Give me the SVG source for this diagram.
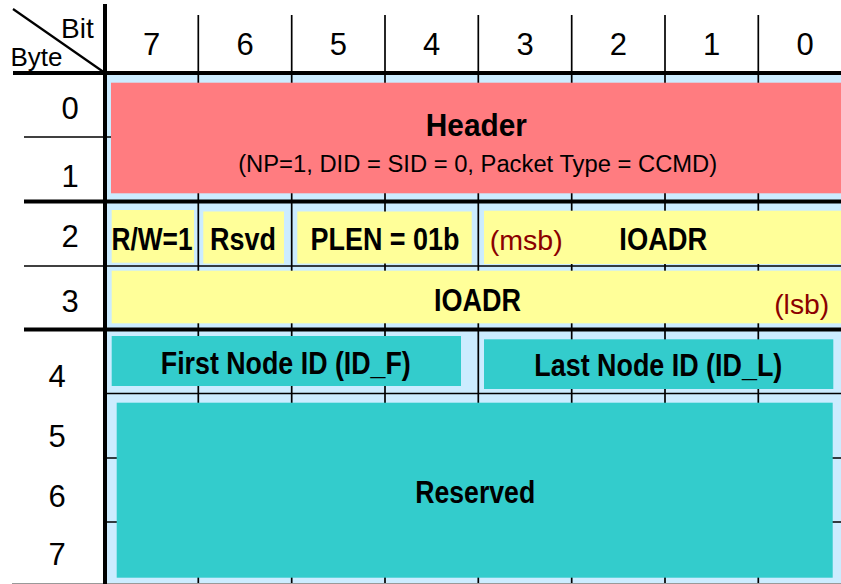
<svg xmlns="http://www.w3.org/2000/svg" width="841" height="584" viewBox="0 0 841 584">
<style>
.num{font-family:"Liberation Sans",Arial,sans-serif;font-size:31px;fill:#000;text-anchor:middle}
.ax{font-family:"Liberation Sans",Arial,sans-serif;fill:#000}
.lbl{font-family:"Liberation Sans",Arial,sans-serif;font-weight:bold;font-size:31px;fill:#000;text-anchor:middle}
.sub{font-family:"Liberation Sans",Arial,sans-serif;font-size:23px;fill:#000;text-anchor:middle}
.bit{font-family:"Liberation Sans",Arial,sans-serif;font-size:28px;fill:#8B0000;text-anchor:middle}
.thin{stroke:#000;stroke-width:1.7;fill:none}
.thick{stroke:#000;stroke-width:4;fill:none}
.red{fill:#FF7C80}
.yel{fill:#FFFF99}
.teal{fill:#33CCCC}
</style>
<rect x="0" y="0" width="841" height="584" fill="#fff"/>
<rect id="field-area" x="105" y="73" width="736" height="511" fill="#CCECFF"/>
<g id="grid">
  <line class="thin" x1="198.3" y1="15" x2="198.3" y2="584"/>
  <line class="thin" x1="291.7" y1="15" x2="291.7" y2="584"/>
  <line class="thin" x1="385" y1="15" x2="385" y2="584"/>
  <line class="thin" x1="478.3" y1="15" x2="478.3" y2="584"/>
  <line class="thin" x1="571.7" y1="15" x2="571.7" y2="584"/>
  <line class="thin" x1="665" y1="15" x2="665" y2="584"/>
  <line class="thin" x1="758.3" y1="15" x2="758.3" y2="584"/>
  <line class="thin" x1="24" y1="137" x2="841" y2="137"/>
  <line class="thin" x1="24" y1="266" x2="841" y2="266"/>
  <line class="thin" x1="105" y1="393.5" x2="841" y2="393.5"/>
  <line class="thin" x1="105" y1="458" x2="841" y2="458"/>
  <line class="thin" x1="105" y1="522" x2="841" y2="522"/>
  <line x1="12" y1="583.5" x2="841" y2="583.5" stroke="#999" stroke-width="1"/>
  <line class="thick" x1="24" y1="201.5" x2="841" y2="201.5"/>
  <line class="thick" x1="24" y1="329.5" x2="841" y2="329.5"/>
  <line class="thick" x1="13" y1="73" x2="841" y2="73"/>
  <line class="thick" x1="105" y1="4" x2="105" y2="584"/>
  <line x1="13" y1="9" x2="105" y2="73" stroke="#000" stroke-width="2.2"/>
</g>
<g id="axis-labels">
  <text class="ax" x="61" y="37.5" font-size="28">Bit</text>
  <text class="ax" x="10.5" y="66" font-size="26">Byte</text>
  <text class="num" x="151.7" y="55">7</text>
  <text class="num" x="245" y="55">6</text>
  <text class="num" x="338.3" y="55">5</text>
  <text class="num" x="431.7" y="55">4</text>
  <text class="num" x="525" y="55">3</text>
  <text class="num" x="618.3" y="55">2</text>
  <text class="num" x="711.7" y="55">1</text>
  <text class="num" x="805" y="55">0</text>
  <text class="num" x="70" y="119">0</text>
  <text class="num" x="70" y="186.5">1</text>
  <text class="num" x="70" y="247">2</text>
  <text class="num" x="70" y="311.5">3</text>
  <text class="num" x="57" y="386.5">4</text>
  <text class="num" x="57" y="446.5">5</text>
  <text class="num" x="57" y="506.5">6</text>
  <text class="num" x="57" y="565">7</text>
</g>
<g id="header">
  <rect class="red" x="111" y="82.7" width="734" height="110.6"/>
  <text class="lbl" x="476.3" y="135.7" font-size="34" textLength="101" lengthAdjust="spacingAndGlyphs">Header</text>
  <text class="sub" x="477.7" y="172" textLength="479" lengthAdjust="spacingAndGlyphs">(NP=1, DID = SID = 0, Packet Type = CCMD)</text>
</g>
<g id="rw">
  <rect class="yel" x="111.7" y="210" width="82.3" height="52.7"/>
  <text class="lbl" x="152" y="250" textLength="81" lengthAdjust="spacingAndGlyphs">R/W=1</text>
</g>
<g id="rsvd">
  <rect class="yel" x="203.3" y="211.5" width="80.7" height="52"/>
  <text class="lbl" x="243" y="250" textLength="66" lengthAdjust="spacingAndGlyphs">Rsvd</text>
</g>
<g id="plen">
  <rect class="yel" x="297.3" y="211.5" width="174.4" height="52"/>
  <text class="lbl" x="385" y="250" textLength="149" lengthAdjust="spacingAndGlyphs">PLEN = 01b</text>
</g>
<g id="ioadr-msb">
  <rect class="yel" x="484" y="210.7" width="361" height="53.3"/>
  <text class="bit" x="526.2" y="250" textLength="73" lengthAdjust="spacingAndGlyphs">(msb)</text>
  <text class="lbl" x="663.3" y="250" textLength="88" lengthAdjust="spacingAndGlyphs">IOADR</text>
</g>
<g id="ioadr-lsb">
  <rect class="yel" x="111.7" y="270.7" width="733.3" height="52.6"/>
  <text class="lbl" x="477.5" y="310.7" textLength="87" lengthAdjust="spacingAndGlyphs">IOADR</text>
  <text class="bit" x="801.7" y="314" textLength="55" lengthAdjust="spacingAndGlyphs">(lsb)</text>
</g>
<g id="first-node">
  <rect class="teal" x="111.7" y="336" width="349.3" height="50"/>
  <text class="lbl" x="285.8" y="374.3" textLength="250" lengthAdjust="spacingAndGlyphs">First Node ID (ID_F)</text>
</g>
<g id="last-node">
  <rect class="teal" x="484" y="339.3" width="349.3" height="49.7"/>
  <text class="lbl" x="658.3" y="375.5" textLength="248" lengthAdjust="spacingAndGlyphs">Last Node ID (ID_L)</text>
</g>
<g id="reserved">
  <rect class="teal" x="116.7" y="402.7" width="716" height="175"/>
  <text class="lbl" x="475.2" y="502.7" textLength="120" lengthAdjust="spacingAndGlyphs">Reserved</text>
</g>
</svg>
